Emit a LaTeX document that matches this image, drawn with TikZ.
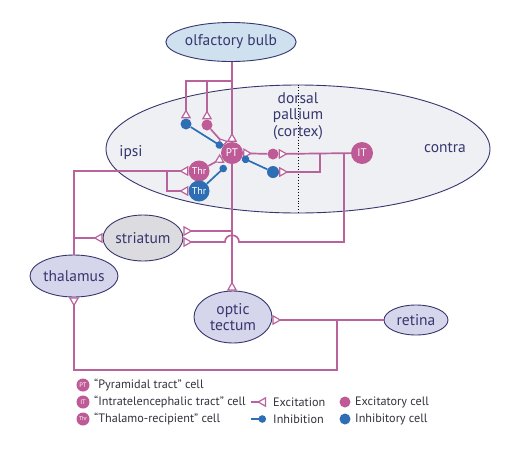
\documentclass[tikz,border=0pt]{standalone}
\usepackage{fontspec}
\setmainfont{PT Sans}
\usetikzlibrary{arrows.meta,shapes.geometric}
\definecolor{pk}{RGB}{186,98,156}
\definecolor{pkcell}{RGB}{190,90,150}
\definecolor{bl}{RGB}{45,110,180}
\definecolor{nv}{RGB}{55,55,110}
\definecolor{obfill}{RGB}{207,224,238}
\definecolor{palfill}{RGB}{238,240,244}
\definecolor{strfill}{RGB}{220,220,224}
\definecolor{lav}{RGB}{213,213,236}
\definecolor{lg}{RGB}{50,50,60}
\begin{document}
\begin{tikzpicture}[x=1pt,y=-1pt,
  region/.style={ellipse, draw=nv, line width=0.9pt, text=nv, inner sep=0pt, align=center,
    font=\fontsize{15.5}{16.5}\selectfont},
  cellE/.style={circle, fill=pkcell, text=white, inner sep=0pt, font=\fontsize{11}{11}\selectfont},
  cellI/.style={circle, fill=bl, text=white, inner sep=0pt, font=\fontsize{11}{11}\selectfont},
  ltxt/.style={anchor=west, text=lg, inner sep=0pt, font=\fontsize{12.2}{13}\selectfont},
  exc/.style={draw=pk, line width=1.7pt, -{Triangle[reversed, length=9pt, width=10pt, fill=white, line width=1.2pt]}},
  inh/.style={draw=bl, line width=1.7pt, -{Circle[length=7.5pt]}},
]
\useasboundingbox (0,0) rectangle (520,448);
\fill[white] (0,0) rectangle (520,448);

% regions
\node[region, fill=palfill, minimum width=384pt, minimum height=128pt] (pal) at (298,149) {};
\draw[black, dotted, line width=0.9pt] (pal.north) -- (pal.south);
\node[text=nv, font=\fontsize{15.5}{16.5}\selectfont, align=center] (dp) at (298,116) {dorsal\\pallium\\(cortex)};
\node[text=nv, font=\fontsize{15.5}{16.5}\selectfont] (ipsi) at (131,153) {ipsi};
\node[text=nv, font=\fontsize{15.5}{16.5}\selectfont] (contra) at (445,148) {contra};

\node[region, fill=obfill, minimum width=126pt, minimum height=39pt] (ob) at (231,42) {olfactory bulb};
\node[region, fill=strfill, minimum width=80pt, minimum height=46pt] (str) at (143,238) {striatum};
\node[region, fill=lav, minimum width=88pt, minimum height=42pt] (thal) at (74,276) {thalamus};
\node[region, fill=lav, minimum width=78pt, minimum height=52pt] (tect) at (233,317) {optic\\tectum};
\node[region, fill=lav, minimum width=64pt, minimum height=30pt] (ret) at (416,320) {retina};

% cells
\node[cellE, minimum size=22pt] (PT) at (232,153) {PT};
\node[cellE, minimum size=22pt] (IT) at (362,153) {IT};
\node[cellE, minimum size=21pt, font=\fontsize{10}{10}\selectfont] (thrE) at (199,171) {Thr};
\node[cellI, minimum size=21pt, font=\fontsize{10}{10}\selectfont] (thrI) at (199,191) {Thr};
\node[cellI, minimum size=11pt] (eA) at (186,124) {};
\node[cellE, minimum size=11pt] (eB) at (207,125) {};
\node[cellE, minimum size=11pt] (eC) at (273,154) {};
\node[cellI, minimum size=12pt] (eD) at (273,172) {};

% junction coordinates
\coordinate (j1) at (232,81);
\coordinate (j2) at (320,153);
\coordinate (j3) at (344,153);
\coordinate (j4) at (232,231);
\coordinate (hopR) at (239,242);
\coordinate (hopL) at (225,242);
\coordinate (j6) at (167,171);
\coordinate (j7) at (74,238);
\coordinate (j8) at (337,320);
\coordinate (j9) at (337,370);
\coordinate (pI) at (226,166);

% olfactory bulb inputs
\draw[exc] (PT |- ob.south) -- (PT.north);
\draw[exc] (j1) -| (eA.north);
\draw[exc] (j1) -| (eB.north);
% interneurons onto PT
\draw[exc] (eB) -- (PT);
\draw[inh] (eA) -- (PT);
\draw[exc] (eC) -- (PT);
\draw[inh] (eD) -- (PT);
% IT onto interneurons
\draw[exc] (IT) -- (eC);
\draw[exc] (j2) |- (eD.east);
% IT to striatum (hop over PT axon)
\draw[exc] (j3) |- (hopR) .. controls +(0,-9) and +(0,-9) .. (hopL) -- (str.east |- hopL);
% PT descending
\draw[exc] (PT.south) -- (PT |- tect.north);
\draw[exc] (j4) -- (str.east |- j4);
% thalamus outputs
\draw[exc] (thal.north) |- (thrE.west);
\draw[exc] (j6) |- (thrI.west);
\draw[exc] (j7) -- (str.west);
\draw[exc] (thrE) -- (PT);
\draw[inh] (thrI) -- (pI);
% retina
\draw[exc] (ret.west) -- (tect.east |- ret.west);
\draw[exc] (j8) -- (j9) -| (thal.south);

% legend
\node[cellE, minimum size=13pt, font=\fontsize{6.5}{6.5}\selectfont] (lpt) at (83,385) {PT};
\node[cellE, minimum size=13pt, font=\fontsize{6.5}{6.5}\selectfont] (lit) at (83,402) {IT};
\node[cellE, minimum size=13pt, font=\fontsize{5.5}{5.5}\selectfont] (lthr) at (83,419) {Thr};
\node[ltxt] (tpt) at (94,385) {“Pyramidal tract” cell};
\node[ltxt] (tit) at (94,402) {“Intratelencephalic tract” cell};
\node[ltxt] (tthr) at (94,419) {“Thalamo-recipient” cell};
\coordinate (le1) at (251,402);
\coordinate (le2) at (266,402);
\coordinate (li1) at (251,419);
\coordinate (li2) at (266,419);
\draw[exc] (le1) -- (le2);
\draw[inh] (li1) -- (li2);
\node[ltxt] (texc) at (273,402) {Excitation};
\node[ltxt] (tinh) at (273,419) {Inhibition};
\node[cellE, minimum size=11pt] (lE) at (345,402) {};
\node[cellI, minimum size=11pt] (lI) at (345,419) {};
\node[ltxt] (tE) at (355,402) {Excitatory cell};
\node[ltxt] (tI) at (355,419) {Inhibitory cell};
\end{tikzpicture}
\end{document}
